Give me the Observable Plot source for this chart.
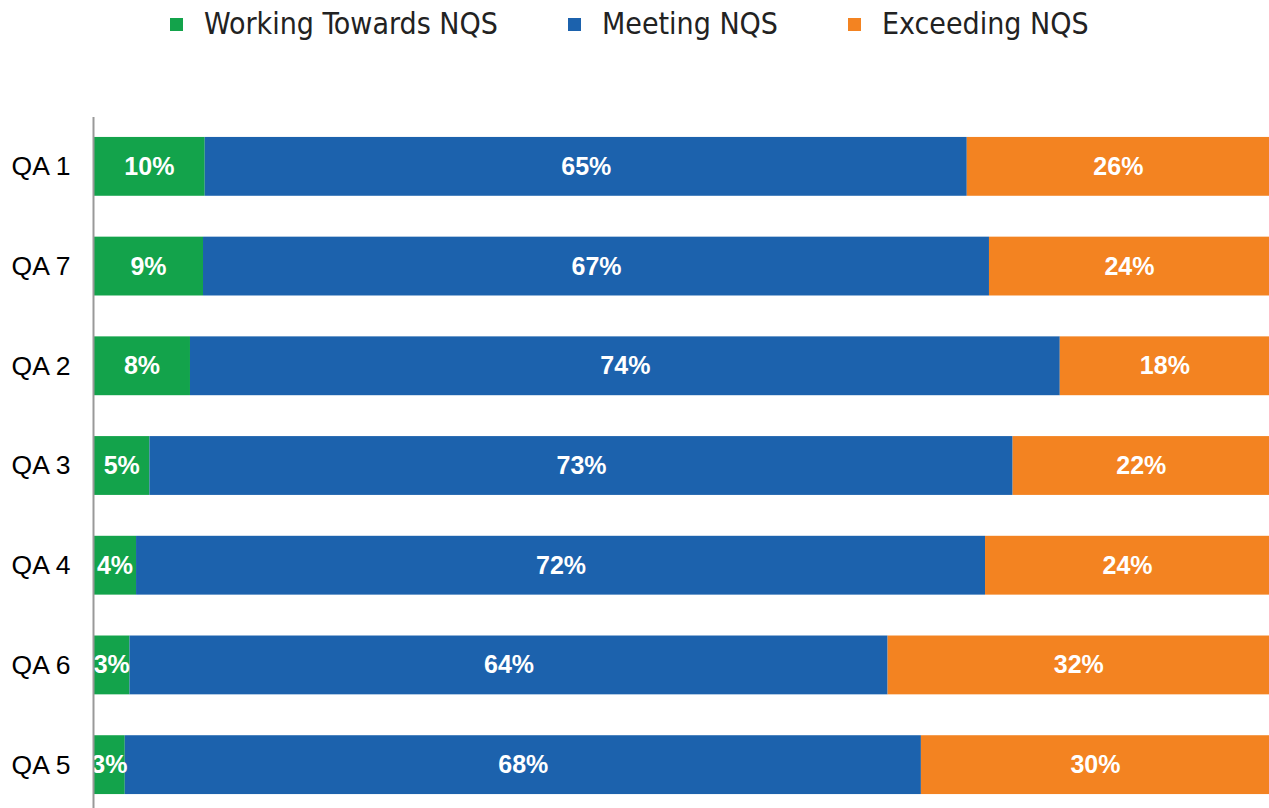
<!DOCTYPE html>
<html>
<head>
<meta charset="utf-8">
<script src="https://cdn.jsdelivr.net/npm/d3@7"></script>
<script src="https://cdn.jsdelivr.net/npm/@observablehq/plot@0.6"></script>
<style>
html, body { margin: 0; padding: 0; background: #fff; overflow: hidden; width: 1269px; height: 808px; }
#legend { position: relative; height: 60px;
  font-family: "Liberation Sans Narrow", "DejaVu Sans Condensed", "Roboto", sans-serif; font-stretch: condensed;
  font-size: 30px; color: #222; }
#legend .item { position: absolute; top: 6px; display: flex; align-items: center; white-space: nowrap; height: 36px; }
#legend .sw { width: 13px; height: 13px; margin-right: 21px; }
#legend .lab { position: relative; top: -1px; }
#chart svg { display: block; overflow: visible; }
</style>
</head>
<body>
<div id="legend"></div>
<div id="chart"></div>
<script>
const categories = ["QA 1", "QA 7", "QA 2", "QA 3", "QA 4", "QA 6", "QA 5"];
const seriesNames = ["Working Towards NQS", "Meeting NQS", "Exceeding NQS"];
const workingTowards = [9.5, 9.35, 8.25, 4.8, 3.66, 3.1, 2.7];
const meeting = [64.8, 66.8, 74.0, 73.4, 72.2, 64.4, 67.7];
const exceeding = [25.7, 23.8, 17.8, 21.8, 24.15, 32.4, 29.6];
const colors = ["#13a34b", "#1c62ad", "#f38321"];

const seriesValues = [workingTowards, meeting, exceeding];
const data = [];
categories.forEach((c, i) => {
  seriesNames.forEach((s, j) => {
    data.push({ category: c, series: s, value: seriesValues[j][i] });
  });
});

// legend (HTML, above the SVG)
const legendLeft = [170, 568, 848];
const legend = document.getElementById("legend");
seriesNames.forEach((s, j) => {
  const item = document.createElement("div");
  item.className = "item";
  item.style.left = legendLeft[j] + "px";
  const sw = document.createElement("span");
  sw.className = "sw";
  sw.style.background = colors[j];
  const lab = document.createElement("span");
  lab.className = "lab";
  lab.textContent = s;
  item.appendChild(sw);
  item.appendChild(lab);
  legend.appendChild(item);
});

const stackOpts = { x: "value", y: "category", z: "series", order: seriesNames, offset: "normalize" };

const chart = Plot.plot({
  width: 1269,
  height: 760,
  marginLeft: 93,
  marginRight: 0,
  marginTop: 57,
  marginBottom: 6,
  style: { fontFamily: "Liberation Sans, Arial, sans-serif", background: "#fff" },
  x: { axis: null, domain: [0, 1] },
  y: { domain: categories, paddingInner: 0.41, paddingOuter: 0.2, round: false, label: null, axis: null },
  color: { domain: seriesNames, range: colors },
  marks: [
    Plot.barX(data, Plot.stackX({ ...stackOpts, fill: "series" })),
    Plot.text(data, Plot.stackX({ ...stackOpts, text: d => Math.round(d.value) + "%", fill: "white",
      fontWeight: "bold", fontSize: 25, fontFamily: "Liberation Sans, Arial, sans-serif" })),
    Plot.ruleX([0], { stroke: "#999", strokeWidth: 2 }),
    Plot.axisY({ tickSize: 0, tickPadding: 23, fontSize: 26.5, fill: "#000", label: null })
  ]
});
document.getElementById("chart").appendChild(chart);
</script>
</body>
</html>
